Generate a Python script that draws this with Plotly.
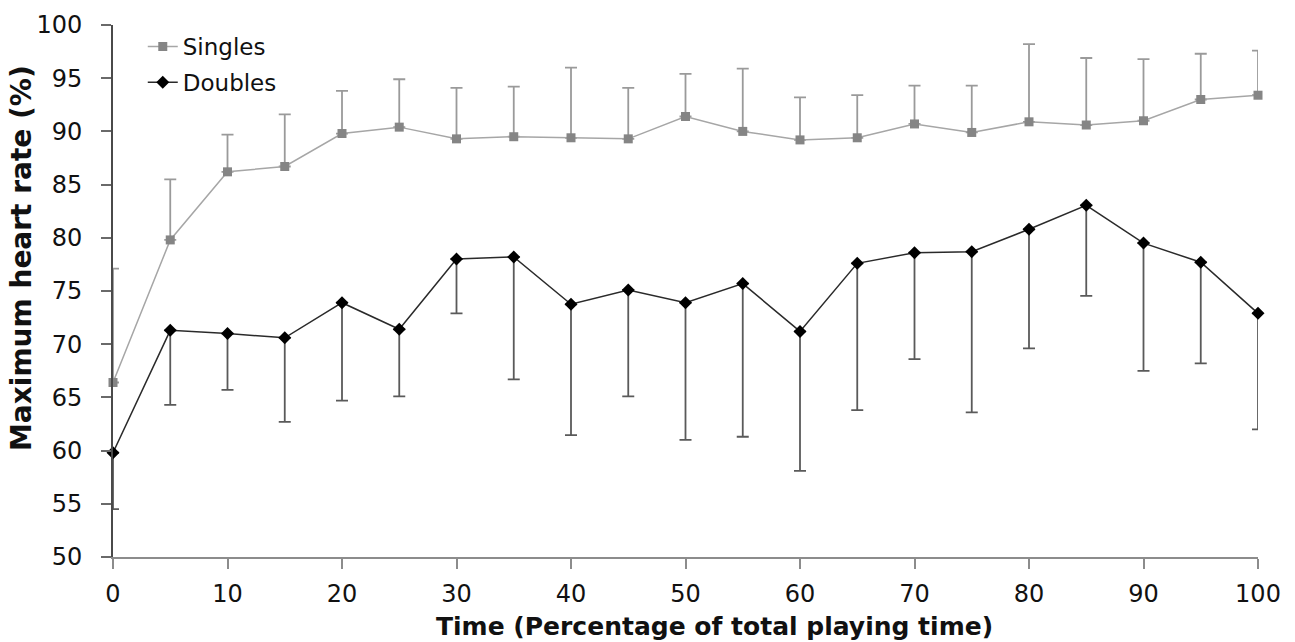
import plotly.graph_objects as go

# Percentage of total playing time
time_pct = [0, 5, 10, 15, 20, 25, 30, 35, 40, 45, 50, 55, 60, 65, 70, 75, 80, 85, 90, 95, 100]

# Singles: mean and SD of maximum heart rate (%)
singles_mean = [66.4, 79.8, 86.2, 86.7, 89.8, 90.4, 89.3, 89.5, 89.4, 89.3, 91.4,
                90.0, 89.2, 89.4, 90.7, 89.9, 90.9, 90.6, 91.0, 93.0, 93.4]
singles_sd = [10.7, 5.7, 3.5, 4.9, 4.0, 4.5, 4.8, 4.7, 6.6, 4.8, 4.0,
              5.9, 4.0, 4.0, 3.6, 4.4, 7.3, 6.3, 5.8, 4.3, 4.2]

# Doubles: mean and SD of maximum heart rate (%)
doubles_mean = [59.8, 71.3, 71.0, 70.6, 73.9, 71.4, 78.0, 78.2, 73.75, 75.1, 73.9,
                75.7, 71.2, 77.6, 78.6, 78.7, 80.8, 83.05, 79.5, 77.7, 72.9]
doubles_sd = [5.3, 7.0, 5.3, 7.9, 9.2, 6.3, 5.1, 11.5, 12.3, 10.0, 12.9,
              14.4, 13.1, 13.8, 10.0, 15.1, 11.2, 8.5, 12.0, 9.5, 10.9]

x_ticks = list(range(0, 101, 10))
y_ticks = list(range(50, 101, 5))

FONT = "DejaVu Sans"
zeros = [0] * len(time_pct)

fig = go.Figure()

fig.add_trace(go.Scatter(
    x=time_pct, y=singles_mean, name="Singles", mode="lines+markers",
    line=dict(color="#a6a6a6", width=1.5),
    marker=dict(symbol="square", size=9, color="#858585"),
    error_y=dict(type="data", symmetric=False, array=singles_sd, arrayminus=zeros,
                 color="#9a9a9a", thickness=1.8, width=6),
    cliponaxis=False, legendgroup="s",
))

fig.add_trace(go.Scatter(
    x=time_pct, y=doubles_mean, name="Doubles", mode="lines+markers",
    line=dict(color="#2a2a2a", width=1.5),
    marker=dict(symbol="diamond", size=10, color="#000000"),
    error_y=dict(type="data", symmetric=False, array=zeros, arrayminus=doubles_sd,
                 color="#5a5a5a", thickness=1.8, width=6),
    cliponaxis=False, legendgroup="d",
))

fig.update_layout(
    width=1295, height=642,
    margin=dict(l=113, r=37, t=25, b=85),
    paper_bgcolor="white", plot_bgcolor="white",
    font=dict(family=FONT, color="#111111"),
    showlegend=True,
    legend=dict(x=0.026, y=1.0, xanchor="left", yanchor="top",
                font=dict(family=FONT, size=23, color="#111111"),
                bgcolor="rgba(0,0,0,0)", tracegroupgap=3),
    xaxis=dict(range=[0, 100], tickvals=x_ticks, ticktext=[str(v) for v in x_ticks],
               showgrid=False, zeroline=False, showline=True,
               linecolor="#8c8c8c", linewidth=1.5,
               ticks="outside", ticklen=10, tickwidth=1.5, tickcolor="#8c8c8c",
               tickfont=dict(family=FONT, size=24, color="#111111"),
               ticklabelstandoff=4),
    yaxis=dict(range=[50, 100], tickvals=y_ticks, ticktext=[str(v) for v in y_ticks],
               showgrid=False, zeroline=False, showline=True,
               linecolor="#4a4a4a", linewidth=2,
               ticks="outside", ticklen=10, tickwidth=1.5, tickcolor="#6a6a6a",
               tickfont=dict(family=FONT, size=24, color="#111111"),
               ticklabelstandoff=14),
    annotations=[
        dict(text="<b>Time (Percentage of total playing time)</b>",
             xref="paper", yref="paper", x=(714 - 113) / 1145, y=-(626 - 557) / 532,
             xanchor="center", yanchor="middle", showarrow=False,
             font=dict(family=FONT, size=25, color="#111111")),
        dict(text="<b>Maximum heart rate (%)</b>", textangle=-90,
             xref="paper", yref="paper", x=-(113 - 21) / 1145, y=(557 - 258) / 532,
             xanchor="center", yanchor="middle", showarrow=False,
             font=dict(family=FONT, size=28, color="#111111")),
    ],
)

fig.write_html("out.html")
